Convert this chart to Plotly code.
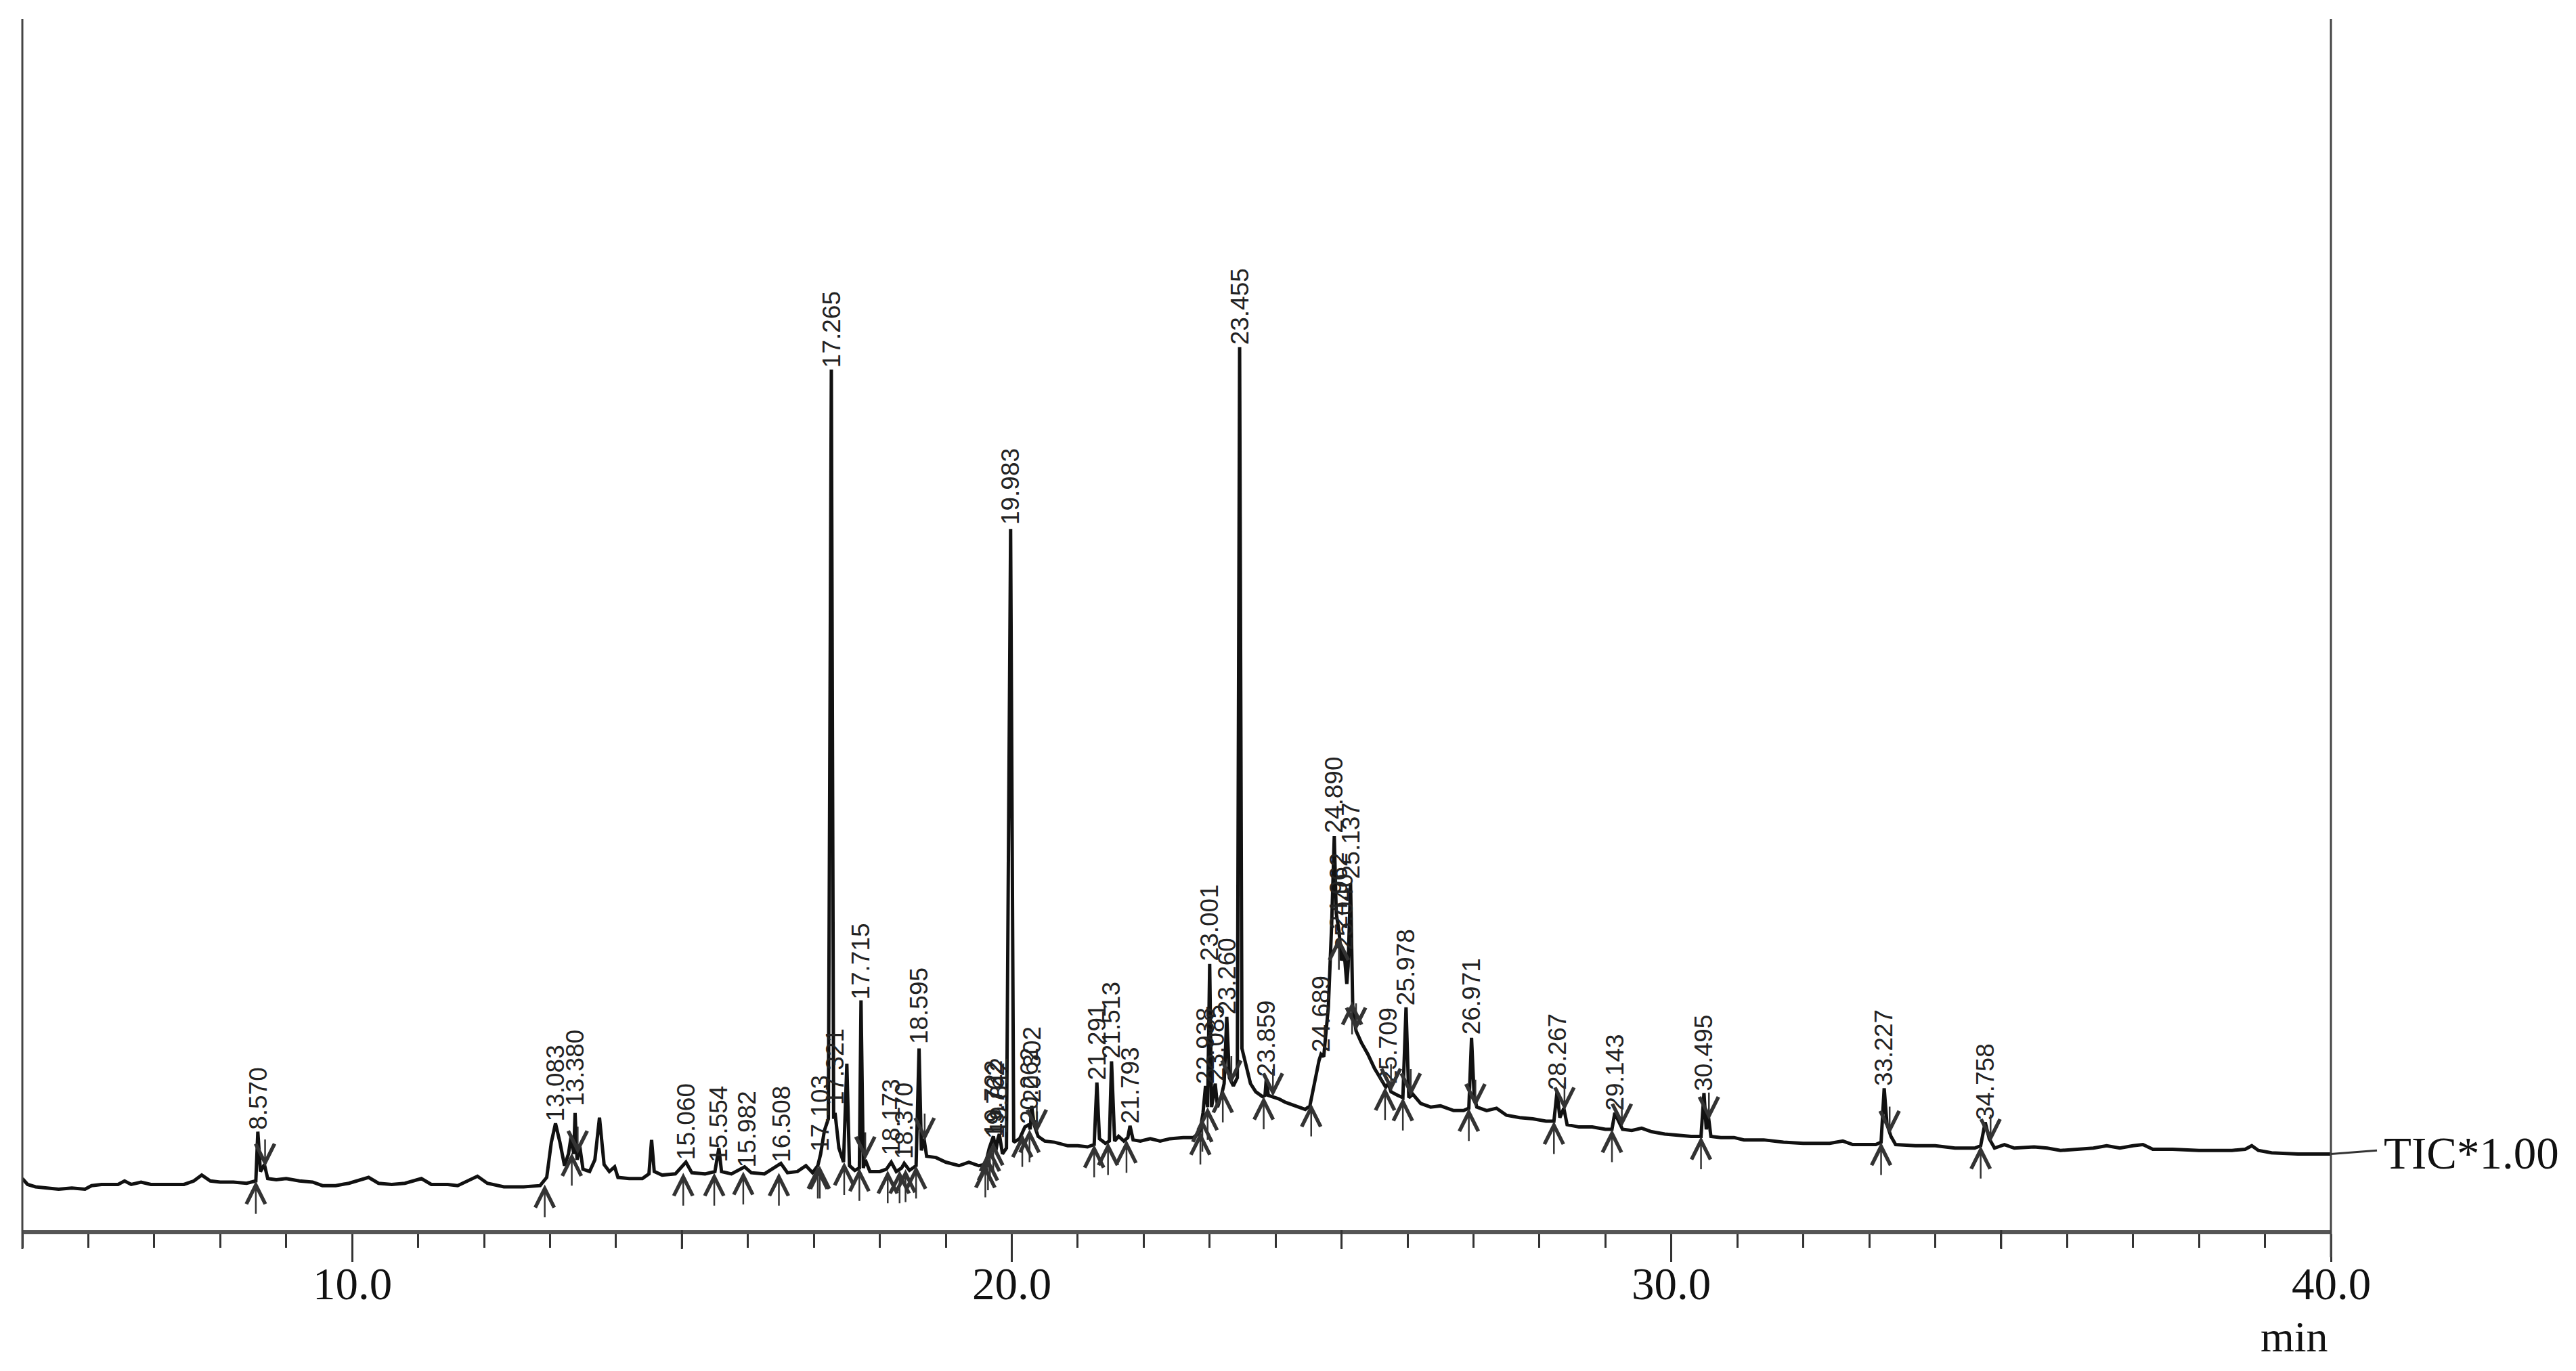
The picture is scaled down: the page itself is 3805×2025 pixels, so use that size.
import plotly.graph_objects as go

# ---------------- data ----------------
time_min = [
    5.00, 5.08, 5.20, 5.40, 5.55, 5.75, 5.95, 6.05, 6.20, 6.45, 6.55, 6.65, 6.80, 6.95, 7.20, 7.45,
    7.60, 7.72, 7.85, 8.00, 8.20, 8.40, 8.54, 8.570, 8.61, 8.67, 8.72, 8.85, 9.00, 9.20, 9.40, 9.55,
    9.75, 9.95, 10.25, 10.40, 10.60, 10.80, 11.05, 11.20, 11.45, 11.60, 11.90, 12.05, 12.30, 12.60,
    12.85, 12.95, 13.02, 13.083, 13.15, 13.22, 13.28, 13.32, 13.36, 13.380, 13.41, 13.45, 13.50,
    13.60, 13.68, 13.75, 13.82, 13.90, 13.98, 14.03, 14.20, 14.40, 14.50, 14.54, 14.58, 14.70, 14.90,
    15.060, 15.15, 15.35, 15.50, 15.56, 15.60, 15.75, 15.95, 16.05, 16.25, 16.50, 16.60, 16.75, 16.88,
    16.98, 17.06, 17.103, 17.16, 17.22, 17.265, 17.30, 17.321, 17.38, 17.45, 17.50, 17.54, 17.62,
    17.69, 17.715, 17.75, 17.78, 17.85, 18.00, 18.10, 18.173, 18.25, 18.33, 18.370, 18.45, 18.55,
    18.595, 18.63, 18.67, 18.71, 18.85, 19.00, 19.20, 19.35, 19.50, 19.60, 19.66, 19.722, 19.76,
    19.79, 19.812, 19.86, 19.92, 19.983, 20.03, 20.12, 20.20, 20.262, 20.28, 20.302, 20.34, 20.40,
    20.50, 20.65, 20.85, 21.00, 21.15, 21.25, 21.291, 21.33, 21.42, 21.48, 21.513, 21.56, 21.62,
    21.70, 21.76, 21.793, 21.84, 21.95, 22.10, 22.25, 22.40, 22.60, 22.75, 22.85, 22.90, 22.938,
    22.97, 23.001, 23.03, 23.06, 23.085, 23.12, 23.18, 23.22, 23.260, 23.30, 23.36, 23.42, 23.455,
    23.49, 23.55, 23.62, 23.70, 23.80, 23.84, 23.859, 23.89, 23.95, 24.05, 24.15, 24.30, 24.45,
    24.52, 24.60, 24.66, 24.689, 24.73, 24.80, 24.85, 24.890, 24.92, 24.962, 25.00, 25.040, 25.08,
    25.10, 25.137, 25.17, 25.22, 25.30, 25.40, 25.50, 25.60, 25.67, 25.709, 25.75, 25.85, 25.93,
    25.978, 26.02, 26.08, 26.20, 26.35, 26.50, 26.70, 26.85, 26.93, 26.971, 27.01, 27.05, 27.20,
    27.35, 27.50, 27.70, 27.90, 28.10, 28.22, 28.267, 28.31, 28.37, 28.42, 28.60, 28.80, 29.00,
    29.10, 29.143, 29.20, 29.26, 29.40, 29.55, 29.70, 29.90, 30.10, 30.30, 30.45, 30.495, 30.53,
    30.56, 30.60, 30.75, 30.95, 31.10, 31.40, 31.70, 32.00, 32.40, 32.60, 32.75, 33.10, 33.18,
    33.227, 33.27, 33.33, 33.40, 33.70, 34.00, 34.30, 34.60, 34.69, 34.758, 34.82, 34.90, 35.05,
    35.20, 35.50, 35.70, 35.90, 36.10, 36.40, 36.60, 36.80, 37.00, 37.15, 37.30, 37.60, 38.00,
    38.50, 38.70, 38.80, 38.90, 39.10, 39.50, 40.00,
]
intensity = [
    4.4, 3.9, 3.7, 3.6, 3.5, 3.6, 3.5, 3.8, 3.9, 3.9, 4.2, 3.9, 4.1, 3.9, 3.9, 3.9,
    4.2, 4.7, 4.2, 4.1, 4.1, 4.0, 4.2, 8.4, 5.0, 5.6, 4.4, 4.3, 4.4, 4.2, 4.1, 3.8,
    3.8, 4.0, 4.5, 4.0, 3.9, 4.0, 4.4, 3.9, 3.9, 3.8, 4.6, 4.0, 3.7, 3.7,
    3.8, 4.5, 7.5, 9.1, 7.5, 5.5, 6.5, 8.0, 6.5, 10.0, 6.0, 7.2, 5.2,
    5.0, 6.0, 9.6, 5.6, 5.0, 5.4, 4.5, 4.4, 4.4, 4.8, 7.7, 5.0, 4.7, 4.8,
    5.8, 4.9, 4.8, 5.0, 7.0, 5.0, 4.8, 5.4, 4.9, 4.8, 5.7, 4.9, 5.0, 5.5,
    4.9, 5.5, 6.5, 8.5, 9.5, 73.4, 9.5, 10.0, 7.0, 5.8, 14.2, 5.5, 5.1,
    5.3, 19.6, 5.3, 6.0, 5.0, 5.0, 5.2, 5.8, 5.0, 5.3, 5.7, 5.1, 5.5,
    15.5, 6.8, 7.8, 6.3, 6.2, 5.8, 5.5, 5.8, 5.5, 5.6, 7.0, 8.0, 6.8,
    7.8, 8.2, 6.5, 7.0, 59.8, 7.5, 7.8, 8.8, 9.0, 8.6, 10.6, 9.0, 8.0,
    7.6, 7.5, 7.2, 7.2, 7.1, 7.3, 12.6, 7.8, 7.4, 7.6, 14.4, 7.6, 8.0,
    7.6, 7.9, 8.9, 7.7, 7.6, 7.8, 7.6, 7.8, 7.9, 7.9, 8.3, 10.0, 12.3,
    10.5, 22.7, 10.5, 11.5, 12.5, 10.5, 11.5, 12.5, 18.2, 13.0, 12.3, 13.0, 75.3,
    15.5, 14.0, 12.5, 11.8, 11.4, 11.5, 12.9, 11.5, 11.4, 11.2, 10.9, 10.6, 10.3,
    10.6, 13.0, 14.5, 15.0, 14.8, 19.0, 26.0, 33.6, 27.0, 25.5, 23.0, 23.7, 21.0,
    22.5, 29.6, 19.0, 17.0, 16.0, 15.0, 13.8, 12.8, 12.2, 12.5, 11.8, 11.5, 11.3,
    19.0, 11.3, 11.6, 10.8, 10.5, 10.6, 10.2, 10.2, 10.4, 16.4, 11.5, 10.5, 10.2,
    10.4, 9.8, 9.6, 9.5, 9.3, 9.3, 11.8, 9.6, 10.4, 9.0, 8.8, 8.8, 8.6,
    8.6, 10.0, 9.3, 8.6, 8.5, 8.7, 8.4, 8.2, 8.1, 8.0, 8.0, 11.7, 8.6,
    9.8, 8.0, 7.9, 7.9, 7.7, 7.7, 7.5, 7.4, 7.4, 7.6, 7.3, 7.3, 7.5,
    12.1, 9.0, 8.0, 7.3, 7.2, 7.2, 7.0, 7.0, 7.2, 9.2, 7.8, 7.0, 7.3,
    7.0, 7.1, 7.0, 6.8, 6.9, 7.0, 7.2, 7.0, 7.2, 7.3, 6.9, 6.9, 6.8,
    6.8, 6.9, 7.2, 6.8, 6.6, 6.5, 6.5,
]

peak_labels = [
    "8.570", "13.083", "13.380", "15.060", "15.554", "15.982", "16.508", "17.103", "17.321",
    "17.265", "17.715", "18.173", "18.370", "18.595", "19.722", "19.762", "19.812", "19.983",
    "20.262", "20.302", "21.291", "21.513", "21.793", "22.938", "23.001", "23.085", "23.260",
    "23.455", "23.859", "24.689", "24.890", "24.962", "25.040", "25.137", "25.709", "25.978",
    "26.971", "28.267", "29.143", "30.495", "33.227", "34.758",
]
peak_label_level = [
    8.4, 9.1, 10.4, 5.8, 5.6, 5.2, 5.6, 6.5, 10.5,
    73.4, 19.5, 6.2, 5.9, 15.7, 7.8, 7.6, 8.0, 60.0,
    8.9, 10.7, 12.6, 14.5, 8.9, 12.3, 22.8, 12.5, 18.2,
    75.3, 12.9, 15.0, 33.7, 25.5, 23.7, 29.8, 12.3, 19.0,
    16.5, 11.8, 10.0, 11.7, 12.1, 9.2,
]

# integration start markers (up arrows) and end markers (down arrows)
start_rt = [8.54, 12.92, 13.33, 15.02, 15.49, 15.93, 16.47, 17.06, 17.09, 17.46, 17.69, 18.12,
            18.30, 18.39, 18.55, 19.60, 19.64, 19.67, 19.72, 20.16, 20.27, 21.25, 21.46, 21.74,
            22.86, 22.89, 22.97, 23.20, 23.82, 24.54, 24.96, 25.16, 25.66, 25.93, 26.93, 28.22,
            29.10, 30.45, 33.18, 34.69]
start_level = [4.2, 3.9, 6.6, 4.9, 4.9, 5.0, 4.9, 5.5, 5.5, 5.8, 5.3, 5.1,
               5.1, 5.2, 5.5, 5.6, 6.2, 7.0, 7.5, 8.2, 8.6, 7.3, 7.5, 7.7,
               8.4, 9.5, 10.5, 12.0, 11.4, 10.8, 25.0, 19.5, 12.2, 11.3, 10.4, 9.3,
               8.6, 8.0, 7.5, 7.2]
end_rt = [8.68, 13.42, 17.78, 18.68, 20.38, 23.33, 23.96, 25.22, 25.75, 26.05, 27.03, 28.38,
          29.25, 30.57, 33.31, 34.84]
end_level = [5.4, 6.5, 6.0, 7.6, 8.3, 12.5, 11.4, 17.0, 11.8, 11.4, 10.5, 10.2,
             8.8, 9.4, 8.2, 7.5]

axis_tick_vals = [10, 20, 30, 40]
axis_tick_text = ["10.0", "20.0", "30.0", "40.0"]
mid_tick_vals = [15, 25, 35]

# ---------------- figure ----------------
# the page body adds an 8 px margin, so the figure is laid out 8 px smaller/offset
OFF = 8
W, H = 3805 - 2 * OFF, 2025 - 2 * OFF
PLOT_L, PLOT_R, PLOT_T, PLOT_B = 33, 3443, 28, 1817        # page pixels
ML, MT = PLOT_L - OFF, PLOT_T - OFF
MR, MB = W - (PLOT_R - OFF), H - (PLOT_B - OFF)
plot_w = PLOT_R - PLOT_L
plot_h = PLOT_B - PLOT_T
y_top = plot_h / 17.32

fig = go.Figure()
fig.add_trace(go.Scatter(
    x=time_min, y=intensity, mode="lines",
    line=dict(color="#111111", width=5), hoverinfo="skip", showlegend=False,
))

ann = []
label_font = dict(family="Liberation Sans, Arial, sans-serif", size=37, color="#222222")
for txt, lvl in zip(peak_labels, peak_label_level):
    ann.append(dict(x=float(txt), y=lvl, xref="x", yref="y", text=txt, textangle=-90,
                    showarrow=False, xanchor="center", yanchor="bottom", yshift=1,
                    font=label_font))
for t, lvl in zip(start_rt, start_level):
    ann.append(dict(x=t, y=lvl, xref="x", yref="y", text="", showarrow=True, ax=0, ay=50,
                    arrowhead=5, arrowsize=2.2, arrowwidth=2.5, arrowcolor="#333333"))
for t, lvl in zip(end_rt, end_level):
    ann.append(dict(x=t, y=lvl, xref="x", yref="y", text="", showarrow=True, ax=0, ay=-42,
                    arrowhead=5, arrowsize=2.2, arrowwidth=2.5, arrowcolor="#333333"))

serif = "Liberation Serif, Times New Roman, serif"
# x tick labels (drawn as annotations for exact placement)
for v, txt in zip(axis_tick_vals, axis_tick_text):
    ann.append(dict(x=v, xref="x", y=-(1896 - PLOT_B) / plot_h, yref="paper", text=txt,
                    showarrow=False, xanchor="center", yanchor="middle",
                    font=dict(family=serif, size=67, color="#111111")))
ann.append(dict(x=1, xref="paper", xshift=76, y=6.6, yref="y", text="TIC*1.00",
                showarrow=False, xanchor="left", yanchor="middle",
                font=dict(family=serif, size=67, color="#111111")))
ann.append(dict(x=(3389 - PLOT_L) / plot_w, xref="paper", y=-(1974 - PLOT_B) / plot_h,
                yref="paper", text="min", showarrow=False, xanchor="center", yanchor="middle",
                font=dict(family=serif, size=64, color="#111111")))

shapes = []
# left / right frame lines extending slightly below the axis
shapes.append(dict(type="line", xref="paper", yref="paper", x0=0, x1=0, y0=1,
                   y1=-28 / plot_h, line=dict(color="#444444", width=3)))
shapes.append(dict(type="line", xref="paper", yref="paper", x0=1, x1=1, y0=1,
                   y1=-40 / plot_h, line=dict(color="#444444", width=3)))
# medium ticks every 5 min
for v in mid_tick_vals:
    shapes.append(dict(type="line", xref="x", yref="paper", x0=v, x1=v, y0=0,
                       y1=-28 / plot_h, line=dict(color="#333333", width=3)))
# connector to TIC label
shapes.append(dict(type="line", xref="paper", yref="y", x0=1, x1=1 + 68 / plot_w,
                   y0=6.5, y1=6.8, line=dict(color="#333333", width=3)))

fig.update_layout(
    width=W, height=H,
    margin=dict(l=ML, r=MR, t=MT, b=MB, pad=0),
    paper_bgcolor="white", plot_bgcolor="white",
    annotations=ann, shapes=shapes, showlegend=False,
    xaxis=dict(
        range=[5, 40], showgrid=False, zeroline=False,
        showline=True, linecolor="#555555", linewidth=6,
        tickmode="array", tickvals=axis_tick_vals, showticklabels=False,
        ticks="outside", ticklen=41, tickwidth=3, tickcolor="#333333",
        minor=dict(tickmode="linear", tick0=5, dtick=1, ticks="outside", ticklen=20,
                   tickwidth=3, tickcolor="#333333", showgrid=False),
    ),
    yaxis=dict(range=[0, y_top], visible=False, showgrid=False, zeroline=False),
)

fig.write_html("out.html")
